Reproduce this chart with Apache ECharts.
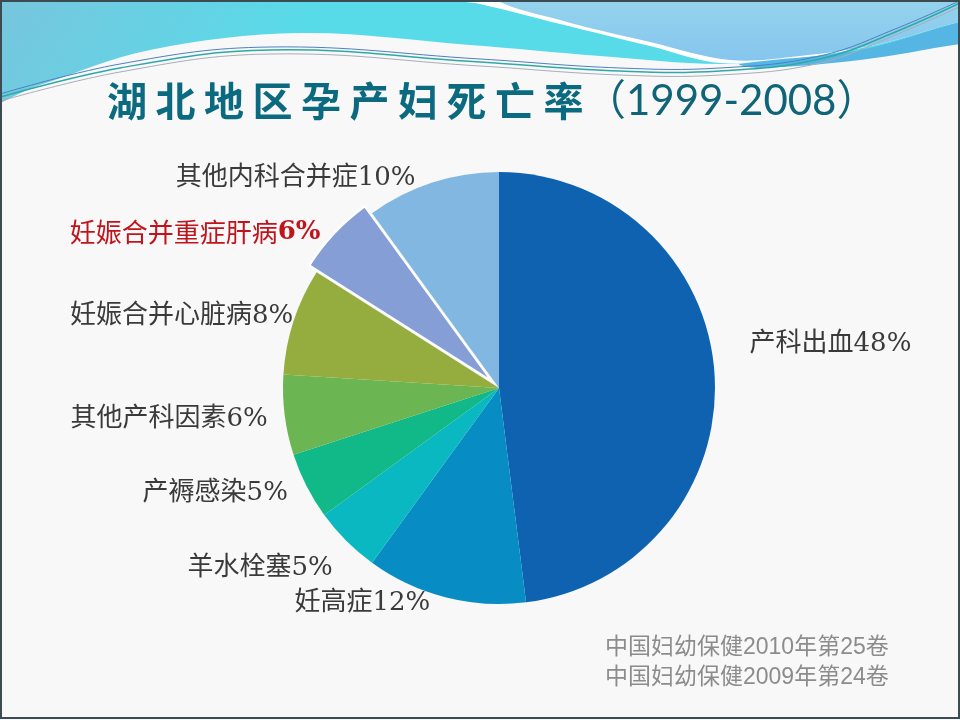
<!DOCTYPE html>
<html>
<head>
<meta charset="utf-8">
<title>湖北地区孕产妇死亡率（1999-2008）</title>
<script src="https://cdn.jsdelivr.net/npm/echarts@6/dist/echarts.min.js"></script>
<style>
	html, body { margin: 0; padding: 0; background: #f8f8f8; }
	#chart { width: 960px; height: 720px; }
</style>
</head>
<body>
<div id="chart"></div>
<script>
	// data
	var causes = ['产科出血', '妊高症', '羊水栓塞', '产褥感染', '其他产科因素', '妊娠合并心脏病', '妊娠合并重症肝病', '其他内科合并症'];
	var shares = [48, 12, 5, 5, 6, 8, 6, 10];
	var highlighted = '妊娠合并重症肝病';
	var sliceColors = ['#0e62b0', '#078dc4', '#0ab8c2', '#10b987', '#6bb553', '#95ad3f', '#859fd6', '#82b7e1'];
	var titleText = '湖北地区孕产妇死亡率';
	var titleYears = '（1999-2008）';
	var sources = ['中国妇幼保健2010年第25卷', '中国妇幼保健2009年第24卷'];

	// small per-label nudges so labels sit where the slide has them
	var labelNudge = [[18, -29], [-7, -6], [0, 19], [-3, 2], [0, 3], [16, -1], [0, 7], [-8, 7]];

!function(){

	'use strict';

	var chart = echarts.init(document.getElementById('chart'));

	var pieData = causes.map(function(name, i){
		var item = { name: name, value: shares[i], itemStyle: { color: sliceColors[i] } };
		if(name === highlighted){
			item.selected = true;
			item.itemStyle.borderColor = '#ffffff';
			item.itemStyle.borderWidth = 2;
		}
		return item;
	});

	// top waves of the slide template
	var waves = [
		{
			type: 'polygon', z: 0, silent: true,
			shape: { smooth: 0.35, points: [[-60, -60], [1020, -60], [1020, 30], [960, 40], [820, 58], [720, 64], [600, 56], [470, 45], [300, 33], [150, 50], [40, 85], [-60, 118]] },
			style: { fill: new echarts.graphic.LinearGradient(0, 0, 0.3, 1, [{ offset: 0, color: '#86bcd8' }, { offset: 1, color: '#58dbe9' }]) }
		},
		{
			type: 'polygon', z: 0, silent: true,
			shape: { smooth: 0.35, points: [[410, -60], [1020, -60], [1020, 14], [960, 22], [880, 44], [800, 58], [720, 63], [650, 46], [560, 24], [480, 4], [420, -8]] },
			style: { fill: '#ffffff' }
		},
		{
			type: 'polygon', z: 0, silent: true,
			shape: { smooth: 0.35, points: [[440, -60], [1020, -60], [1020, 14], [960, 22], [880, 44], [800, 56], [730, 60], [650, 42], [560, 20], [490, -4]] },
			style: { fill: new echarts.graphic.LinearGradient(0, 0, 0, 1, [{ offset: 0, color: '#a7e3ea' }, { offset: 1, color: '#86c6ee' }]) }
		},
		{
			type: 'polygon', z: 0, silent: true,
			shape: { smooth: 0.35, points: [[740, 64], [860, 50], [960, 22], [1020, 8], [1020, 36], [960, 44], [860, 60], [760, 68]] },
			style: { fill: '#55b6e3' }
		},
		{
			type: 'polyline', z: 1, silent: true,
			shape: { smooth: 0.4, points: [[-10, 100], [120, 68], [270, 50], [480, 62], [620, 71], [720, 71], [820, 59], [900, 30], [970, -2]] },
			style: { stroke: '#2fa9a6', lineWidth: 1.5, fill: null }
		},
		{
			type: 'polyline', z: 1, silent: true,
			shape: { smooth: 0.4, points: [[-10, 97], [120, 64], [270, 47], [480, 59], [620, 68], [720, 68], [820, 56], [900, 27], [970, -4]] },
			style: { stroke: '#4f7fc2', lineWidth: 1, fill: null }
		},
		{
			type: 'polyline', z: 1, silent: true,
			shape: { smooth: 0.4, points: [[-10, 104], [120, 72], [270, 54], [480, 66], [620, 75], [720, 75], [820, 63], [900, 33], [970, 2]] },
			style: { stroke: '#a9adb8', lineWidth: 1, fill: null }
		}
	];

	var titleParts = titleText.split('').map(function(ch, i){
		return {
			type: 'text', z: 5, silent: true,
			x: 127 + i * 48.5, y: 101,
			style: { text: ch, fill: '#0c6a80', font: 'bold 40px "Noto Sans CJK SC"', align: 'center', verticalAlign: 'middle' }
		};
	});
	titleParts.push({
		type: 'text', z: 5, silent: true,
		x: 584, y: 101,
		style: { text: titleYears, fill: '#106478', font: '42px Lato, "Noto Sans CJK SC"', align: 'left', verticalAlign: 'middle' }
	});

	var sourceTexts = sources.map(function(s, i){
		return {
			type: 'text', z: 5, silent: true,
			x: 605, y: 648 + i * 30,
			style: { text: s, fill: '#8c8c8c', font: '23px "Liberation Sans", "Noto Sans CJK SC"', align: 'left', verticalAlign: 'middle' }
		};
	});

	var frame = {
		type: 'rect', z: 100, silent: true,
		shape: { x: 1, y: 1, width: 958, height: 717 },
		style: { fill: null, stroke: '#3c4a52', lineWidth: 2 }
	};

	chart.setOption({
		backgroundColor: '#f8f8f8',
		animation: false,
		graphic: waves.concat(titleParts, sourceTexts, [frame]),
		series: [{
			type: 'pie',
			center: [499, 388],
			radius: [0, 216],
			startAngle: 90,
			clockwise: true,
			selectedMode: 'single',
			selectedOffset: 10,
			avoidLabelOverlap: false,
			emphasis: { disabled: true },
			label: {
				show: true,
				position: 'outside',
				distanceToLabelLine: 5,
				fontSize: 26,
				color: '#3a3a3a',
				fontFamily: '"DejaVu Serif", "Noto Sans CJK SC"',
				formatter: function(p){
					if(p.name === highlighted){
						return '{hl|' + p.name + '}{hlv|' + p.value + '%}';
					}
					return p.name + p.value + '%';
				},
				rich: {
					hl: { color: '#c0141c', fontSize: 26, fontFamily: '"Noto Sans CJK SC"' },
					hlv: { color: '#c0141c', fontSize: 26, fontWeight: 'bold', fontFamily: '"DejaVu Serif"' }
				}
			},
			labelLine: { show: false, length: 12, length2: 0 },
			labelLayout: function(p){
				var n = labelNudge[p.dataIndex] || [0, 0];
				return { dx: n[0], dy: n[1] };
			},
			data: pieData
		}]
	});

}()
</script>
</body>
</html>
